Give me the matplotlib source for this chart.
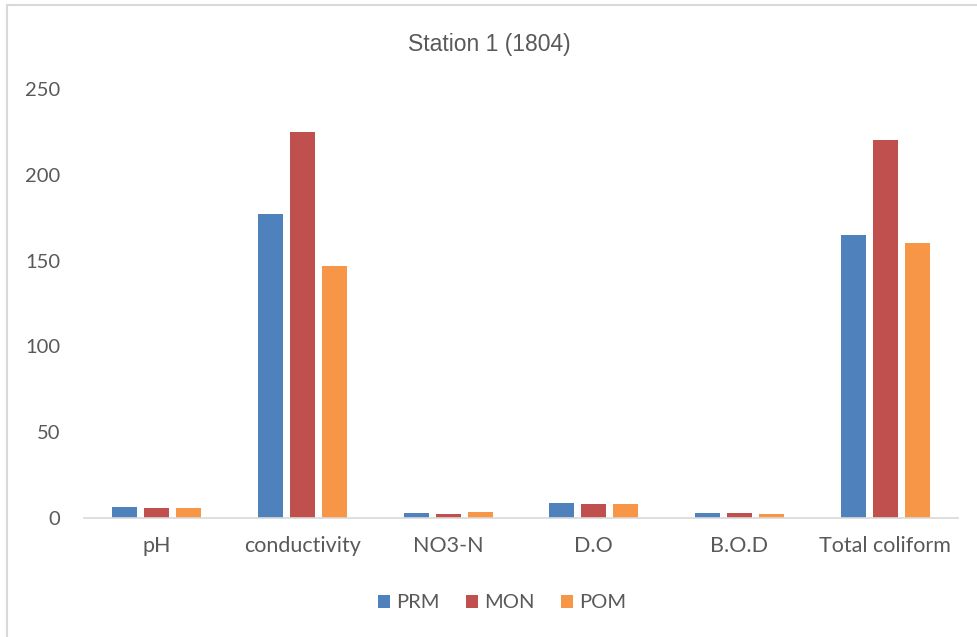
import matplotlib
matplotlib.use("Agg")
import matplotlib.pyplot as plt
import numpy as np
from matplotlib.lines import Line2D

categories = ['pH', 'conductivity', 'NO3-N', 'D.O', 'B.O.D', 'Total coliform']
prm = [6.5, 177, 2.8, 9.0, 2.8, 165]
mon = [6.0, 225, 2.6, 8.0, 3.2, 220]
pom = [5.8, 147, 3.4, 8.0, 2.4, 160]
series_names = ['PRM', 'MON', 'POM']
colors = ['#4F81BD', '#C0504D', '#F79646']

plt.rcParams['font.family'] = ['Lato', 'DejaVu Sans']
text_color = '#595959'

fig = plt.figure(figsize=(9.78, 6.37), dpi=100)
ax = fig.add_axes([84 / 978, 1 - 518 / 637, 874 / 978, 429 / 637])

x = np.arange(len(categories))
width = 0.172
step = 0.22
for i, (vals, name, c) in enumerate(zip([prm, mon, pom], series_names, colors)):
    ax.bar(x + (i - 1) * step, vals, width, color=c, label=name, zorder=2)

ax.set_xlim(-0.5, len(categories) - 0.5)
ax.set_ylim(0, 250)
ax.set_yticks(range(0, 251, 50))
ax.set_xticks(x)
ax.set_xticklabels(categories)
ax.tick_params(axis='both', length=0, labelsize=14.5, colors=text_color)
ax.tick_params(axis='x', labelsize=15.5, pad=13)
ax.tick_params(axis='y', pad=17)
for s in ['top', 'right', 'left']:
    ax.spines[s].set_visible(False)
ax.spines['bottom'].set_color('#D9D9D9')
ax.spines['bottom'].set_linewidth(1.2)

fig.text(0.5, 1 - 45 / 637, 'Station 1 (1804)', ha='center', va='center',
         fontsize=16.5, color=text_color, family=['Liberation Sans', 'DejaVu Sans'])

leg = fig.legend(loc='center', bbox_to_anchor=(502 / 978, 1 - 603 / 637), ncol=3,
                 frameon=False, fontsize=14.5, handlelength=0.6, handleheight=0.6,
                 handletextpad=0.3, columnspacing=1.3)
for t in leg.get_texts():
    t.set_color(text_color)

# chart frame (left and top edges)
fig.add_artist(Line2D([7.5 / 978, 7.5 / 978], [0, 1 - 5 / 637], color='#D9D9D9', lw=1.5))
fig.add_artist(Line2D([7.5 / 978, 1], [1 - 5 / 637, 1 - 5 / 637], color='#D9D9D9', lw=1.5))

fig.savefig('out.png', dpi=100)
